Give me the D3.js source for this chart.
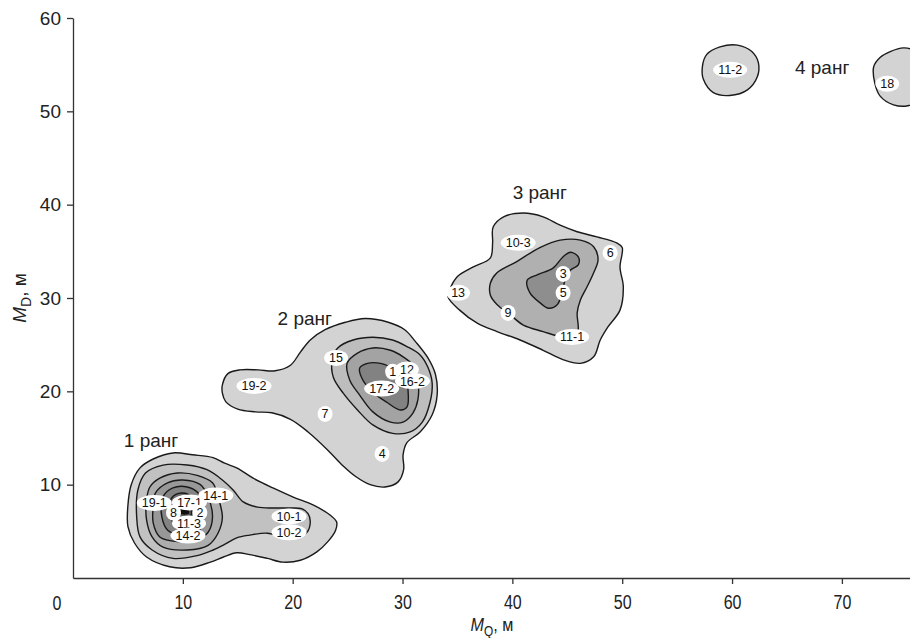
<!DOCTYPE html>
<html><head><meta charset="utf-8">
<script src="https://cdn.jsdelivr.net/npm/d3@7"></script>
<style>body{margin:0;background:#fff}svg{display:block}</style>
</head><body><svg id="c" width="910" height="638"></svg>
<script>
// ---- data ----
const xTicks = [10, 20, 30, 40, 50, 60, 70];
const yTicks = [10, 20, 30, 40, 50, 60];

const sampleLabels = ["19-1","17-1","14-1","8","2","11-3","14-2","10-1","10-2",
  "19-2","15","7","4","1","12","17-2","16-2",
  "10-3","6","3","5","13","9","11-1",
  "11-2","18"];
const sampleMQ = [7.4,10.6,13.0,9.15,11.55,10.56,10.47,19.67,19.67,
  16.48,23.95,22.95,28.14,29.1,30.4,28.1,30.9,
  40.53,48.9,44.62,44.62,35.06,39.61,45.44,
  59.83,74.13];
const sampleMD = [8.04,8.1,8.85,7.0,7.0,5.85,4.55,6.6,4.9,
  20.58,23.58,17.58,13.29,22.1,22.35,20.3,21.1,
  35.91,34.83,32.58,30.55,30.55,28.4,25.83,
  54.45,52.95];

const rankLabels = ["1 ранг", "2 ранг", "3 ранг", "4 ранг"];
const rankMQ = [7.1, 21.1, 42.5, 68.2];
const rankMD = [14.7, 27.8, 41.3, 54.7];

// contour outlines (MQ, MD), outer to inner
const rank1Contours = [
  [[5.0,7.8],[5.3,10.0],[6.1,11.8],[7.3,12.75],[9.1,13.4],[10.9,13.2],[12.75,12.9],[13.8,12.3],[14.9,11.8],[16.4,10.7],[18.2,9.65],[20.0,8.7],[21.9,7.8],[23.4,6.75],[24.0,6.0],[23.9,5.1],[23.2,3.9],[22.2,2.8],[20.7,1.9],[19.1,1.7],[17.7,2.1],[16.1,2.5],[14.9,2.7],[13.7,2.25],[12.5,1.7],[10.7,1.1],[8.8,1.2],[6.7,2.25],[5.6,3.75],[5.0,5.5]],
  [[5.8,6.5],[5.9,9.4],[6.6,11.25],[8.2,12.1],[10.4,12.1],[12.2,11.6],[13.6,10.5],[14.6,9.4],[15.5,8.15],[16.8,7.6],[18.2,7.5],[19.8,7.5],[20.85,7.4],[21.4,6.9],[21.6,6.0],[21.3,4.9],[20.5,4.4],[19.1,4.4],[17.7,4.8],[16.1,4.6],[14.9,4.3],[13.8,3.6],[12.75,3.0],[11.3,2.4],[9.1,2.1],[7.2,3.0],[6.1,4.4]],
  [[7.0,9.75],[7.9,10.7],[9.5,11.25],[11.3,11.0],[12.7,10.2],[13.2,8.7],[13.6,6.5],[13.2,4.8],[12.3,3.5],[10.4,3.0],[8.2,3.3],[7.2,4.4],[6.7,6.2],[6.7,8.4]],
  [[7.5,9.1],[8.6,10.2],[10.0,10.5],[11.6,10.0],[12.3,8.7],[12.7,6.5],[12.3,4.9],[11.3,4.1],[9.5,3.9],[7.9,4.4],[7.3,5.9],[7.3,7.6]],
  [[8.2,8.7],[9.1,9.65],[10.4,9.75],[11.4,9.1],[11.8,7.6],[11.8,5.9],[11.3,4.8],[9.9,4.6],[8.65,5.1],[8.1,6.5]],
  [[9.0,8.6],[9.9,9.1],[10.8,8.7],[11.3,7.3],[11.1,5.9],[10.2,5.4],[9.3,5.7],[8.8,7.0]],
  [[9.6,7.8],[10.4,8.0],[10.8,7.1],[10.5,6.2],[9.7,6.2],[9.4,7.0]],
  [[9.8,7.3],[10.5,7.35],[10.55,6.9],[9.85,6.85]]
];
const rank1Fills = ["#d3d3d3","#c1c1c1","#adadad","#989898","#838383","#6d6d6d","#575757","#111111"];

const rank2Contours = [
  [[13.6,20.7],[14.1,21.9],[15.2,22.3],[16.85,22.3],[18.4,22.2],[19.8,22.8],[20.7,24.2],[21.6,25.5],[22.95,26.6],[24.8,27.4],[26.6,27.8],[28.7,27.4],[30.2,26.6],[31.2,25.3],[32.3,23.6],[33.0,21.8],[33.15,19.6],[32.7,17.5],[31.6,15.65],[30.4,14.5],[30.05,13.2],[30.1,11.6],[29.6,10.3],[28.4,9.75],[27.05,10.0],[25.7,10.9],[24.6,12.0],[23.2,13.7],[21.4,15.65],[19.8,17.0],[18.1,17.7],[16.6,17.8],[15.0,18.1],[13.9,18.9],[13.6,19.8]],
  [[23.6,23.4],[24.1,24.65],[25.5,25.5],[27.3,25.8],[29.1,25.5],[30.4,24.8],[31.6,23.9],[32.3,22.6],[32.7,20.9],[32.5,18.8],[31.8,16.7],[30.7,15.65],[29.1,15.5],[27.3,16.4],[25.9,18.0],[24.6,19.8],[23.7,21.5]],
  [[24.95,23.0],[25.9,24.1],[27.3,24.65],[28.9,24.4],[30.05,23.7],[30.96,22.8],[31.4,21.2],[31.4,19.1],[30.96,17.7],[30.05,16.7],[28.9,16.7],[27.3,17.8],[26.1,19.6],[25.2,21.2]],
  [[26.1,22.5],[26.8,23.0],[28.0,23.0],[29.1,22.5],[30.2,21.8],[30.5,20.15],[30.4,18.3],[29.8,18.0],[28.6,18.8],[27.3,19.9],[26.3,21.4]]
];
const rank2Fills = ["#d3d3d3","#bdbdbd","#a3a3a3","#828282"];

const rank3Contours = [
  [[34.3,30.9],[35.0,32.3],[36.4,33.3],[38.0,34.3],[38.2,35.9],[38.25,37.6],[39.2,38.7],[41.0,39.1],[42.8,38.7],[44.35,37.8],[45.9,37.1],[47.7,36.55],[49.5,35.9],[50.0,35.4],[49.8,33.3],[50.1,31.2],[49.8,28.7],[48.7,26.9],[48.0,25.5],[47.4,23.7],[46.2,23.0],[44.6,23.4],[42.8,24.4],[40.7,25.5],[38.6,26.4],[36.8,27.3],[35.2,28.7],[34.15,30.1]],
  [[38.0,31.6],[38.6,32.7],[40.4,33.9],[42.5,35.4],[44.35,36.2],[46.2,36.2],[47.4,35.5],[47.8,34.1],[47.4,32.7],[46.8,31.2],[46.2,29.8],[45.9,28.4],[46.0,26.9],[45.9,25.8],[44.6,25.8],[42.8,26.4],[41.0,27.1],[39.8,28.2],[38.6,29.3],[38.0,30.3]],
  [[41.35,31.9],[42.3,32.5],[43.7,33.2],[44.6,34.4],[45.3,34.9],[46.0,34.4],[46.0,33.55],[45.3,33.0],[44.8,31.9],[44.5,30.55],[44.1,29.3],[43.3,28.9],[42.5,29.5],[41.6,30.55]]
];
const rank3Fills = ["#d3d3d3","#b0b0b0","#8e8e8e"];

const rank4Contours = [
  [[57.7,56.1],[58.9,56.9],[60.5,57.1],[61.8,56.4],[62.4,55.2],[62.3,53.7],[61.4,52.3],[59.8,51.7],[58.3,52.0],[57.4,53.4],[57.3,54.8]],
  [[73.5,55.8],[74.4,56.4],[75.6,56.8],[76.4,56.6],[77.0,55.5],[77.0,51.2],[76.0,50.6],[74.7,50.7],[73.5,51.6],[73.0,53.0],[72.9,54.8]]
];
const rank4Fills = ["#d3d3d3","#d3d3d3"];

// ---- chart ----
const svg = d3.select("#c");
const x = d3.scaleLinear().domain([0, 76.2]).range([73, 910]);
const y = d3.scaleLinear().domain([0, 60]).range([578, 18]);
const font = "'Liberation Sans', Arial, sans-serif";
const ink = "#1a1a1a";

const line = d3.line().x(d => x(d[0])).y(d => y(d[1])).curve(d3.curveCatmullRomClosed.alpha(0.5));

const groups = [
  [rank1Contours, rank1Fills],
  [rank2Contours, rank2Fills],
  [rank3Contours, rank3Fills],
  [rank4Contours, rank4Fills]
];
const gC = svg.append("g");
groups.forEach(([cs, fills]) => {
  cs.forEach((c, i) => {
    const dark = fills[i] === "#111111";
    gC.append("path").attr("d", line(c))
      .attr("fill", fills[i])
      .attr("stroke", dark ? "none" : ink)
      .attr("stroke-width", 1.4);
  });
});

// axes
const xAxis = d3.axisBottom(x).tickValues(xTicks).tickSize(6).tickSizeOuter(0).tickPadding(11);
const yAxis = d3.axisLeft(y).tickValues(yTicks).tickSize(6).tickSizeOuter(0).tickPadding(6);
const gx = svg.append("g").attr("transform", `translate(0,${y(0)})`).call(xAxis);
const gy = svg.append("g").attr("transform", `translate(${x(0)},0)`).call(yAxis);
[gx, gy].forEach(g => {
  g.select(".domain").attr("stroke", "#333").attr("stroke-width", 1.3);
  g.selectAll(".tick line").attr("stroke", "#333").attr("stroke-width", 1.3);
  g.selectAll(".tick text").attr("fill", "#222").style("font-family", font).style("font-size", "19px");
});
gx.selectAll(".tick text").style("font-size", "20px").attr("transform", "scale(0.8,1)");
// origin label
svg.append("text").attr("transform", `translate(${x(0) - 16},${y(0) + 32}) scale(0.8,1)`)
  .attr("text-anchor", "middle").attr("fill", "#222")
  .style("font-family", font).style("font-size", "20px").text("0");

// axis titles
const xt = svg.append("text").attr("transform", "translate(492,631) scale(0.85,1)").attr("text-anchor", "middle")
  .attr("fill", "#222").style("font-family", font).style("font-size", "19px");
xt.append("tspan").style("font-style", "italic").text("M");
xt.append("tspan").attr("dy", 5).style("font-size", "14px").text("Q");
xt.append("tspan").attr("dy", -5).text(", м");

const yt = svg.append("text").attr("transform", `translate(26,${y(30)}) rotate(-90)`).attr("text-anchor", "middle")
  .attr("fill", "#222").style("font-family", font).style("font-size", "19px");
yt.append("tspan").style("font-style", "italic").text("M");
yt.append("tspan").attr("dy", 5).style("font-size", "14px").text("D");
yt.append("tspan").attr("dy", -5).text(", м");

// sample labels
const gL = svg.append("g");
sampleLabels.forEach((lab, i) => {
  const g = gL.append("g").attr("transform", `translate(${x(sampleMQ[i])},${y(sampleMD[i])})`);
  const el = g.append("ellipse").attr("fill", "#fff");
  const t = g.append("text").attr("text-anchor", "middle").attr("dy", "0.36em")
    .attr("fill", "#111").style("font-family", font).style("font-size", "12.5px").text(lab);
  const w = t.node().getComputedTextLength();
  el.attr("rx", lab.length === 1 ? 7.5 : w / 2 + 5).attr("ry", 8);
});

// rank labels
rankLabels.forEach((r, i) => {
  svg.append("text").attr("x", x(rankMQ[i])).attr("y", y(rankMD[i])).attr("dy", "0.35em")
    .attr("text-anchor", "middle").attr("fill", "#222")
    .style("font-family", font).style("font-size", "19px").text(r);
});
</script></body></html>
